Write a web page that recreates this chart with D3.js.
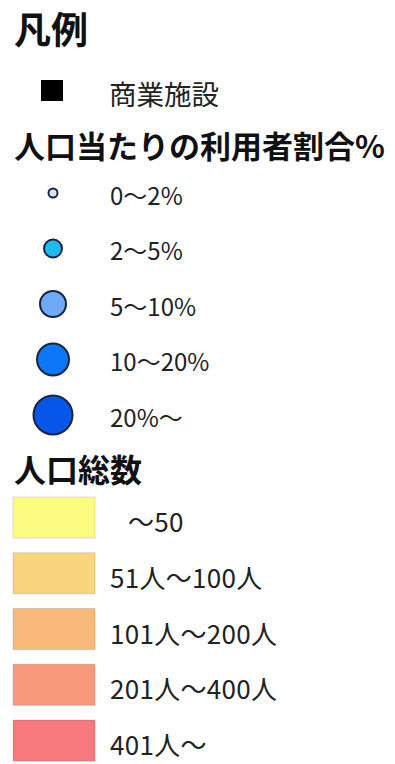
<!DOCTYPE html>
<html>
<head>
<meta charset="utf-8">
<script src="https://cdn.jsdelivr.net/npm/d3@7"></script>
<style>
  body { margin: 0; background: #fff; }
  svg { display: block; }
</style>
</head>
<body>
<div id="legend"></div>
<script>
// legend contents
const facilityLabel = "商業施設";

const ratioLabels = ["0〜2%", "2〜5%", "5〜10%", "10〜20%", "20%〜"];
const ratioColors = ["#d4e6f2", "#1fbaee", "#6eaaf6", "#0b78fa", "#0756ea"];
const ratioRadius = [4.5, 9, 13, 16, 19.5];

const popLabels = ["〜50", "51人〜100人", "101人〜200人", "201人〜400人", "401人〜"];
const popColors = ["#fcfc80", "#f9d67e", "#f9b97b", "#f9997c", "#f87a7f"];

const W = 395, H = 764;
const fontJP = "'Noto Sans CJK JP', 'Noto Sans', sans-serif";

const svg = d3.select("#legend")
  .append("svg")
  .attr("width", W)
  .attr("height", H);

svg.append("rect").attr("width", W).attr("height", H).attr("fill", "#fff");

const heading = (txt, x, y, size) => svg.append("text")
  .attr("x", x)
  .attr("y", y)
  .attr("font-family", fontJP)
  .attr("font-weight", "bold")
  .attr("font-size", size + "px")
  .attr("fill", "#111")
  .text(txt);

heading("凡例", 14, 44, 37);

// commercial facility marker
svg.append("rect")
  .attr("x", 41).attr("y", 80)
  .attr("width", 22).attr("height", 21)
  .attr("fill", "#000");
svg.append("text")
  .attr("x", 109).attr("y", 93)
  .attr("dominant-baseline", "central")
  .attr("font-family", fontJP)
  .attr("font-size", "27.5px")
  .attr("fill", "#222")
  .text(facilityLabel);

heading("人口当たりの利用者割合%", 14, 158, 31);

// circles
const yCirc = d3.scalePoint().domain(ratioLabels).range([193, 415]);
const rScale = d3.scaleOrdinal().domain(ratioLabels).range(ratioRadius);
const cScale = d3.scaleOrdinal().domain(ratioLabels).range(ratioColors);

const circItems = svg.append("g").selectAll("g")
  .data(ratioLabels)
  .join("g")
  .attr("transform", d => `translate(0, ${yCirc(d)})`);

circItems.append("circle")
  .attr("cx", 53)
  .attr("r", d => rScale(d))
  .attr("fill", d => cScale(d))
  .attr("stroke", "#1a2340")
  .attr("stroke-width", 2);

circItems.append("text")
  .attr("x", 110)
  .attr("y", 1)
  .attr("dominant-baseline", "central")
  .attr("font-family", fontJP)
  .attr("font-size", "24px")
  .attr("fill", "#222")
  .text(d => d);

heading("人口総数", 14, 482, 32);

// population boxes
const yBox = d3.scalePoint().domain(popLabels).range([497, 720]);
const fillScale = d3.scaleOrdinal().domain(popLabels).range(popColors);
const boxH = 41;

const boxItems = svg.append("g").selectAll("g")
  .data(popLabels)
  .join("g")
  .attr("transform", d => `translate(0, ${yBox(d)})`);

boxItems.append("rect")
  .attr("x", 13)
  .attr("width", 82)
  .attr("height", boxH)
  .attr("fill", d => fillScale(d))
  .attr("stroke", "rgba(0,0,0,0.12)")
  .attr("stroke-width", 1);

boxItems.append("text")
  .attr("x", (d, i) => i === 0 ? 128 : 110)
  .attr("y", boxH / 2 + 3)
  .attr("dominant-baseline", "central")
  .attr("font-family", fontJP)
  .attr("font-size", "26px")
  .attr("letter-spacing", "0.3px")
  .attr("fill", "#222")
  .text(d => d);
</script>
</body>
</html>
